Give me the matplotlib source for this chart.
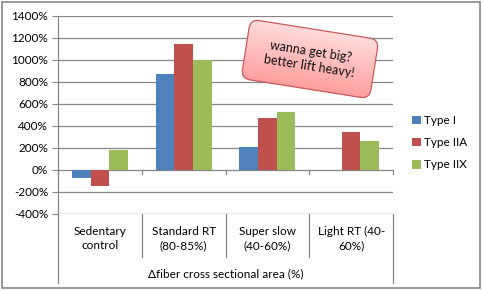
import numpy as np
import matplotlib
matplotlib.use('Agg')
import matplotlib.pyplot as plt
from matplotlib.patches import FancyBboxPatch, Rectangle
from matplotlib.transforms import Affine2D, blended_transform_factory

plt.rcParams['font.family'] = ['Lato', 'DejaVu Sans']

categories = ['Sedentary\ncontrol', 'Standard RT\n(80-85%)', 'Super slow\n(40-60%)', 'Light RT (40-\n60%)']
type_i = [-70, 873, 212, 0]
type_iia = [-143, 1148, 474, 345]
type_iix = [185, 1003, 530, 265]
series = [('Type I', type_i, '#4F81BD'),
          ('Type IIA', type_iia, '#C0504D'),
          ('Type IIX', type_iix, '#9BBB59')]
yticks = list(range(-400, 1401, 200))
axis_title = '\u0394fiber cross sectional area (%)'
note = 'wanna get big?\nbetter lift heavy!'

W, H = 483, 291
fig = plt.figure(figsize=(W / 100, H / 100), dpi=100)
ax = fig.add_axes([58 / W, 1 - 214 / H, (393 - 58) / W, (214 - 16) / H])

grid_c = '#868686'
fs = 8.5
x = np.arange(len(categories))
bw = 1 / 4.5
for i, (name, vals, col) in enumerate(series):
    ax.bar(x + (i - 1) * bw, vals, bw, color=col, label=name, zorder=3)

ax.set_xlim(-0.5, len(categories) - 0.5)
ax.set_ylim(-400, 1400)
ax.set_yticks(yticks)
ax.set_yticklabels([f'{v}%' for v in yticks], fontsize=fs)
ax.tick_params(axis='y', length=4, width=0.8, color=grid_c, pad=3)
ax.set_xticks([])
for v in yticks:
    ax.axhline(v, color=grid_c, lw=0.9, zorder=1)
for s in ['top', 'right', 'bottom']:
    ax.spines[s].set_visible(False)
ax.spines['left'].set_color(grid_c)
ax.spines['left'].set_linewidth(0.9)

# category boundary ticks on the zero line and the multi-level label frame
bounds = np.arange(len(categories) + 1) - 0.5
bt = blended_transform_factory(ax.transData, ax.transAxes)
zero_frac = 400 / 1800
for b in bounds:
    ax.plot([b, b], [zero_frac, zero_frac - 4 / 198], transform=bt, color=grid_c, lw=0.9, clip_on=False)
    low = -0.348 if b in (bounds[0], bounds[-1]) else -0.217
    ax.plot([b, b], [0, low], transform=bt, color=grid_c, lw=0.9, clip_on=False)
for xi, lab in zip(x, categories):
    ax.text(xi, -0.125, lab, transform=bt, ha='center', va='center', fontsize=fs, linespacing=1.35)
ax.text(np.mean(x), -0.303, axis_title, transform=bt, ha='center', va='center', fontsize=fs)

fig.legend(loc='upper left', bbox_to_anchor=(412 / W, 1 - 115 / H), frameon=False, fontsize=fs,
           handlelength=0.75, handleheight=0.75, handletextpad=0.3, labelspacing=0.95, borderpad=0,
           borderaxespad=0)

# overlay in pixel coordinates for the frame and the note
ov = fig.add_axes([0, 0, 1, 1], facecolor='none')
ov.set_xlim(0, W)
ov.set_ylim(H, 0)
ov.axis('off')
ov.add_patch(Rectangle((2, 2), 478, 286, fill=False, ec='#878787', lw=1.2))

cx, cy, bwid, bht = 310, 59, 130, 60
rot = Affine2D().rotate_deg_around(cx, cy, 9) + ov.transData
box = FancyBboxPatch((cx - bwid / 2, cy - bht / 2), bwid, bht,
                     boxstyle='round,pad=0,rounding_size=9', fc='none', ec='#C85A5A', lw=0.9,
                     transform=rot, zorder=5)
grad = np.linspace(0, 1, 64).reshape(-1, 1)
top = np.array([1.0, 0.86, 0.86])
bot = np.array([1.0, 0.62, 0.62])
img = top + (bot - top) * grad[..., None]
im = ov.imshow(img, extent=(cx - bwid / 2, cx + bwid / 2, cy + bht / 2, cy - bht / 2),
               aspect='auto', zorder=4, interpolation='bilinear')
im.set_transform(rot)
ov.add_patch(box)
im.set_clip_path(box)
ov.set_xlim(0, W)
ov.set_ylim(H, 0)
ov.text(cx, cy, note, ha='center', va='center', rotation=-9, fontsize=9, linespacing=1.3,
        rotation_mode='anchor', color='#111111', zorder=6)

fig.savefig('out.png', dpi=100)
